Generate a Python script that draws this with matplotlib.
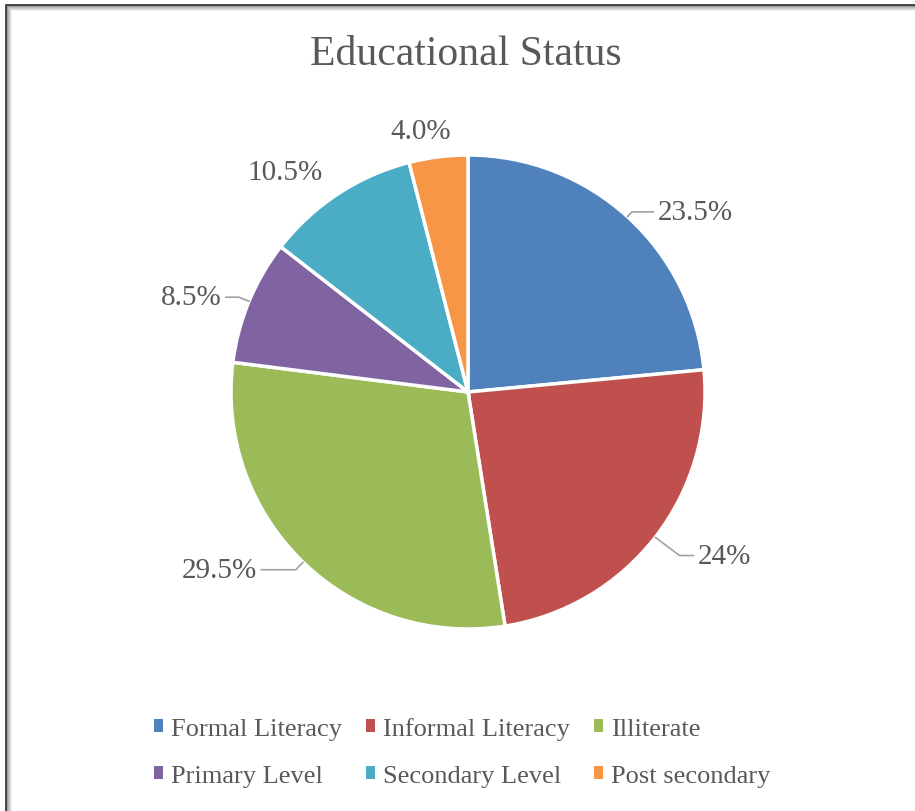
import numpy as np
import matplotlib.pyplot as plt
from matplotlib.patches import Rectangle

categories = ['Formal Literacy', 'Informal Literacy', 'Illiterate',
              'Primary Level', 'Secondary Level', 'Post secondary']
values = [23.5, 24, 29.5, 8.5, 10.5, 4.0]
labels = ['23.5%', '24%', '29.5%', '8.5%', '10.5%', '4.0%']
colors = ['#4F81BD', '#C0504D', '#9BBB59', '#8064A2', '#4BACC6', '#F79646']

# label placement (pie radius = 1), alignment, and whether a leader line is drawn
label_pos = [(0.80, 0.76), (0.97, -0.69), (-0.89, -0.75),
             (-1.04, 0.40), (-0.77, 0.93), (-0.20, 1.10)]
label_ha = ['left', 'left', 'right', 'right', 'center', 'center']
leader = [True, True, True, True, False, False]

plt.rcParams['font.family'] = ['Liberation Serif', 'DejaVu Serif']
text_gray = '#595959'

fig = plt.figure(figsize=(9.15, 8.12), dpi=100)

# frame around the chart
fig.patches.append(Rectangle((6 / 915, -0.01), 1.0, 1 - 6 / 812 + 0.01,
                             transform=fig.transFigure, fill=False,
                             edgecolor='#3a3a3a', linewidth=2.0))
for i in range(1, 6):
    fig.patches.append(Rectangle((6 / 915 + i * 0.0012, -0.01), 1.0,
                                 1 - 6 / 812 + 0.01 - i * 0.0013,
                                 transform=fig.transFigure, fill=False,
                                 edgecolor=str(0.55 + i * 0.08), linewidth=0.8))

R = 237
half = 1.6
w = 2 * half * R
ax = fig.add_axes([(468 - w / 2) / 915, (812 - 393 - w / 2) / 812, w / 915, w / 812])
wedges, _ = ax.pie(values, colors=colors, startangle=90, counterclock=False,
                   radius=1.0,
                   wedgeprops=dict(edgecolor='white', linewidth=2.5))
ax.set_xlim(-half, half)
ax.set_ylim(-half, half)
ax.set_aspect('equal')
ax.axis('off')

for wdg, lab, pos, ha, ld in zip(wedges, labels, label_pos, label_ha, leader):
    mid = np.deg2rad((wdg.theta1 + wdg.theta2) / 2)
    ex, ey = np.cos(mid), np.sin(mid)
    if ld:
        ax.annotate(lab, xy=(ex, ey), xytext=pos, ha=ha, va='center',
                    fontsize=21, color=text_gray,
                    arrowprops=dict(arrowstyle='-', color='#a0a0a0', lw=1.2,
                                    shrinkA=1, shrinkB=0,
                                    connectionstyle='angle,angleA=0,angleB=%d,rad=0'
                                    % np.rad2deg(mid)))
    else:
        ax.text(pos[0], pos[1], lab, ha=ha, va='center', fontsize=21, color=text_gray)

fig.text(466 / 915, 1 - 55 / 812, 'Educational Status', ha='center', va='center',
         fontsize=30, color=text_gray)

order = [0, 3, 1, 4, 2, 5]
leg = fig.legend([wedges[i] for i in order], [categories[i] for i in order],
                 loc='center', bbox_to_anchor=(462 / 915, 1 - 753 / 812), ncol=3,
                 frameon=False, fontsize=19, handlelength=0.35, handleheight=0.35,
                 handletextpad=0.3, columnspacing=0.9, labelspacing=0.95,
                 labelcolor=text_gray)
for h in leg.legend_handles:
    h.set_linewidth(0)

fig.savefig('out.png', dpi=100, facecolor='white')
